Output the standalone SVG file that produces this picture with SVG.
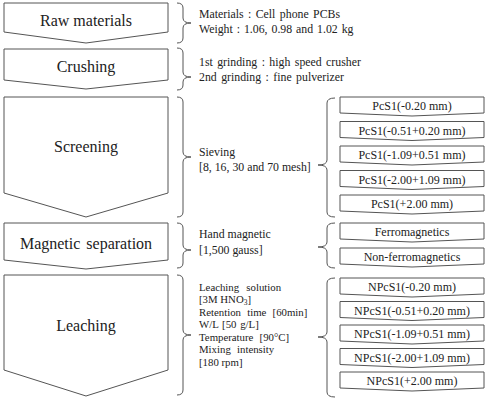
<svg xmlns="http://www.w3.org/2000/svg" width="489" height="400" viewBox="0 0 489 400">
<style>
.shape{fill:#fff;stroke:#555;stroke-width:1}
.brace{fill:none;stroke:#555;stroke-width:1}
text{font-family:"Liberation Serif","Times New Roman",serif;fill:#222}
.big{font-size:16px;text-anchor:middle}
.desc{font-size:11.8px}
.lch{font-size:10.8px}
.box{font-size:12px;text-anchor:middle}
</style>
<rect width="489" height="400" fill="#fff"/>
<g id="raw-materials">
<path class="shape" d="M4,3 H168 V32 L86,43 L4,32 Z"/>
<text class="big" x="86" y="26">Raw materials</text>
</g>
<g id="crushing">
<path class="shape" d="M4,49 H168 V80 L86,89 L4,80 Z"/>
<text class="big" x="86" y="72">Crushing</text>
</g>
<g id="screening">
<path class="shape" d="M4,97 H168 V193 L86,217 L4,193 Z"/>
<text class="big" x="86" y="152">Screening</text>
</g>
<g id="magnetic-separation">
<path class="shape" d="M4,223 H168 V260 L86,269 L4,260 Z"/>
<text class="big" x="86" y="249" word-spacing="2">Magnetic separation</text>
</g>
<g id="leaching">
<path class="shape" d="M4,275 H168 V370 L86,396 L4,370 Z"/>
<text class="big" x="86" y="331">Leaching</text>
</g>
<g id="connectors">
<path class="brace" d="M177,3 Q183,3 183,8 V18 Q183,23 191,23 Q183,23 183,28 V38 Q183,43 177,43"/>
<path class="brace" d="M177,48 Q183,48 183,53 V72 Q183,77 191,77 Q183,77 183,82 V85 Q183,90 177,90"/>
<path class="brace" d="M177,97 Q183,97 183,102 V152 Q183,157 191,157 Q183,157 183,162 V212 Q183,217 177,217"/>
<path class="brace" d="M177,223 Q183,223 183,228 V245 Q183,250 191,250 Q183,250 183,255 V263 Q183,268 177,268"/>
<path class="brace" d="M177,275 Q183,275 183,280 V330 Q183,335 191,335 Q183,335 183,340 V390 Q183,395 177,395"/>
<path class="brace" d="M335,98 Q327,98 327,103 V160 Q327,165 318,165 Q327,165 327,170 V212 Q327,217 335,217"/>
<path class="brace" d="M335,223 Q327,223 327,228 V242 Q327,247 318,247 Q327,247 327,252 V263 Q327,268 335,268"/>
<path class="brace" d="M335,278 Q327,278 327,283 V332 Q327,337 318,337 Q327,337 327,342 V392 Q327,397 335,397"/>
</g>
<g id="raw-desc">
<text class="desc" x="199" y="18" word-spacing="1.5">Materials : Cell phone PCBs</text>
<text class="desc" x="199" y="33" word-spacing="1">Weight : 1.06, 0.98 and 1.02 kg</text>
</g>
<g id="crushing-desc">
<text class="desc" x="199" y="66" word-spacing="1.5">1st grinding : high speed crusher</text>
<text class="desc" x="199" y="81" word-spacing="1.5">2nd grinding : fine pulverizer</text>
</g>
<g id="screening-desc">
<text class="desc" x="199" y="156">Sieving</text>
<text class="desc" x="199" y="171">[8, 16, 30 and 70 mesh]</text>
</g>
<g id="magnetic-desc">
<text class="desc" x="199" y="238">Hand magnetic</text>
<text class="desc" x="199" y="254">[1,500 gauss]</text>
</g>
<g id="leaching-desc">
<text class="lch" x="199" y="290.5" word-spacing="4.5">Leaching solution</text>
<text class="lch" x="199" y="303">[3M HNO<tspan font-size="7.5" dy="2">3</tspan><tspan dy="-2">]</tspan></text>
<text class="lch" x="199" y="315.5" word-spacing="3.5">Retention time [60min]</text>
<text class="lch" x="199" y="328" word-spacing="1">W/L [50 g/L]</text>
<text class="lch" x="199" y="340.5" word-spacing="3.5">Temperature [90°C]</text>
<text class="lch" x="199" y="353" word-spacing="3.5">Mixing intensity</text>
<text class="lch" x="199" y="365.5">[180 rpm]</text>
</g>
<g id="pcs1-1"><path class="shape" d="M340,97 H484 V113 L412,116 L340,113 Z"/><text class="box" x="412" y="110">PcS1(-0.20 mm)</text></g>
<g id="pcs1-2"><path class="shape" d="M340,121.5 H484 V137.5 L412,140.5 L340,137.5 Z"/><text class="box" x="412" y="134.5">PcS1(-0.51+0.20 mm)</text></g>
<g id="pcs1-3"><path class="shape" d="M340,146 H484 V162 L412,165 L340,162 Z"/><text class="box" x="412" y="159">PcS1(-1.09+0.51 mm)</text></g>
<g id="pcs1-4"><path class="shape" d="M340,170.5 H484 V186.5 L412,189.5 L340,186.5 Z"/><text class="box" x="412" y="183.5">PcS1(-2.00+1.09 mm)</text></g>
<g id="pcs1-5"><path class="shape" d="M340,195 H484 V211 L412,214 L340,211 Z"/><text class="box" x="412" y="208">PcS1(+2.00 mm)</text></g>
<g id="ferro"><path class="shape" d="M340,223 H484 V239 L412,242 L340,239 Z"/><text class="box" x="412" y="236">Ferromagnetics</text></g>
<g id="non-ferro"><path class="shape" d="M340,248 H484 V264 L412,267 L340,264 Z"/><text class="box" x="412" y="261">Non-ferromagnetics</text></g>
<g id="npcs1-1"><path class="shape" d="M340,278 H484 V294 L412,297 L340,294 Z"/><text class="box" x="412" y="291">NPcS1(-0.20 mm)</text></g>
<g id="npcs1-2"><path class="shape" d="M340,301.5 H484 V317.5 L412,320.5 L340,317.5 Z"/><text class="box" x="412" y="314.5">NPcS1(-0.51+0.20 mm)</text></g>
<g id="npcs1-3"><path class="shape" d="M340,325 H484 V341 L412,344 L340,341 Z"/><text class="box" x="412" y="338">NPcS1(-1.09+0.51 mm)</text></g>
<g id="npcs1-4"><path class="shape" d="M340,348.5 H484 V364.5 L412,367.5 L340,364.5 Z"/><text class="box" x="412" y="361.5">NPcS1(-2.00+1.09 mm)</text></g>
<g id="npcs1-5"><path class="shape" d="M340,372 H484 V388 L412,391 L340,388 Z"/><text class="box" x="412" y="385">NPcS1(+2.00 mm)</text></g>
</svg>
